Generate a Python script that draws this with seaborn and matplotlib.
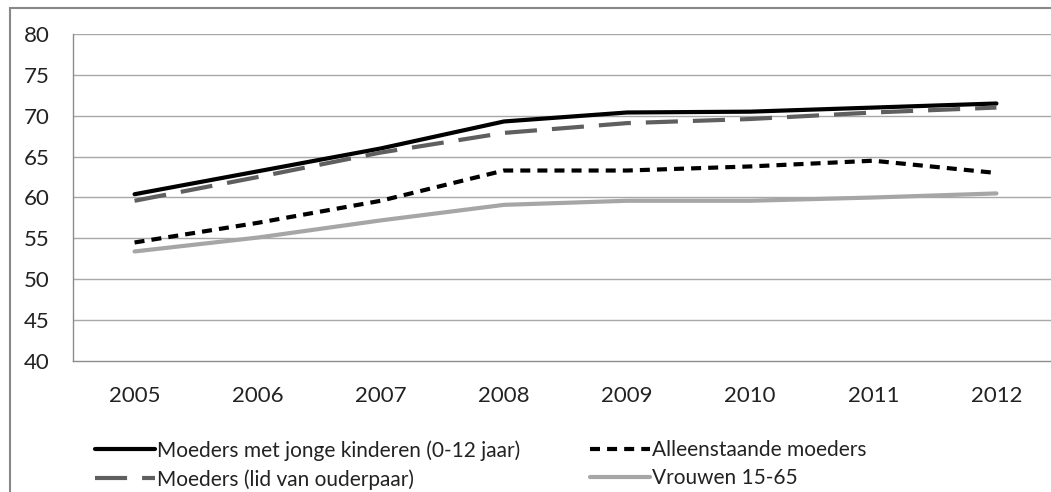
import matplotlib
matplotlib.use("Agg")
import matplotlib.pyplot as plt
from matplotlib.lines import Line2D
from matplotlib.patches import Rectangle
import numpy as np
import pandas as pd
import seaborn as sns

# Data
years = ["2005", "2006", "2007", "2008", "2009", "2010", "2011", "2012"]
jonge_kinderen = [60.4, 63.2, 66.0, 69.3, 70.4, 70.5, 71.0, 71.5]
alleenstaand = [54.5, 56.9, 59.6, 63.3, 63.3, 63.8, 64.5, 63.0]
ouderpaar = [59.6, 62.5, 65.5, 67.9, 69.1, 69.6, 70.4, 71.0]
vrouwen = [53.4, 55.1, 57.2, 59.1, 59.6, 59.6, 60.0, 60.5]
y_ticks = [40, 45, 50, 55, 60, 65, 70, 75, 80]

series_names = [
    "Moeders met jonge kinderen (0-12 jaar)",
    "Alleenstaande moeders",
    "Moeders (lid van ouderpaar)",
    "Vrouwen 15-65",
]
series_values = [jonge_kinderen, alleenstaand, ouderpaar, vrouwen]

frames = []
for name, vals in zip(series_names, series_values):
    frames.append(pd.DataFrame({"pos": np.arange(len(years)), "waarde": vals, "reeks": name}))
df = pd.concat(frames, ignore_index=True)

palette = {
    series_names[0]: "#000000",
    series_names[1]: "#000000",
    series_names[2]: "#5f5f5f",
    series_names[3]: "#a6a6a6",
}
dash_styles = {
    series_names[0]: "",
    series_names[1]: (2.4, 1.7),
    series_names[2]: (7.7, 3.6),
    series_names[3]: "",
}

sns.set_theme(style="white")
plt.rcParams["font.family"] = ["Lato", "DejaVu Sans"]

fig = plt.figure(figsize=(10.51, 4.92), dpi=100)
W, H = 1051, 492
ax = fig.add_axes([73 / W, 1 - 361 / H, (1058 - 73) / W, (361 - 34) / H])

lw = 3.0
sns.lineplot(data=df, x="pos", y="waarde", hue="reeks", style="reeks",
             hue_order=series_names, style_order=series_names,
             palette=palette, dashes=dash_styles, linewidth=lw, ax=ax, legend=False)

grid_col = "#a8a8a8"
axis_col = "#8c8c8c"
ax.set_xlim(-0.5, len(years) - 0.5)
ax.set_ylim(40, 80)
ax.set_yticks(y_ticks)
ax.set_yticklabels([str(v) for v in y_ticks])
ax.set_xticks(np.arange(len(years)))
ax.set_xticklabels(years)
ax.set_xticks(np.arange(len(years) + 1) - 0.5, minor=True)
ax.set_xlabel("")
ax.set_ylabel("")
for v in y_ticks[1:]:
    ax.axhline(v, color=grid_col, lw=1.0, zorder=0)

ax.tick_params(axis="x", which="major", length=0, pad=18, labelsize=16, colors="#222222")
ax.tick_params(axis="x", which="minor", length=6, width=1, color=axis_col, direction="out")
ax.tick_params(axis="y", length=5, width=1, color=axis_col, direction="out", pad=12,
               labelsize=16, labelcolor="#222222")
for side in ["top", "right"]:
    ax.spines[side].set_visible(False)
for side in ["left", "bottom"]:
    ax.spines[side].set_color(axis_col)
    ax.spines[side].set_linewidth(1.0)

# legend in two columns, drawn as two separate legends
handles = {}
for name in series_names:
    ls = "-" if dash_styles[name] == "" else (0, dash_styles[name])
    handles[name] = Line2D([], [], color=palette[name], lw=lw, linestyle=ls)

leg_kw = dict(frameon=False, fontsize=15, handlelength=2.9, handletextpad=0.08,
              labelspacing=0.4, borderpad=0, borderaxespad=0, loc="upper left")
leg1 = fig.legend([handles[series_names[0]], handles[series_names[2]]],
                  [series_names[0], series_names[2]],
                  bbox_to_anchor=(95 / W, 1 - 440 / H), **leg_kw)
leg2 = fig.legend([handles[series_names[1]], handles[series_names[3]]],
                  [series_names[1], series_names[3]],
                  bbox_to_anchor=(590 / W, 1 - 440 / H), **leg_kw)
for leg in (leg1, leg2):
    for t in leg.get_texts():
        t.set_color("#222222")

# outer chart frame
fig.patches.append(Rectangle((10 / W, -0.1), 1.2, 1 - 8 / H + 0.1, transform=fig.transFigure,
                             fill=False, edgecolor="#888888", lw=1.5))

fig.savefig("out.png", dpi=100)
